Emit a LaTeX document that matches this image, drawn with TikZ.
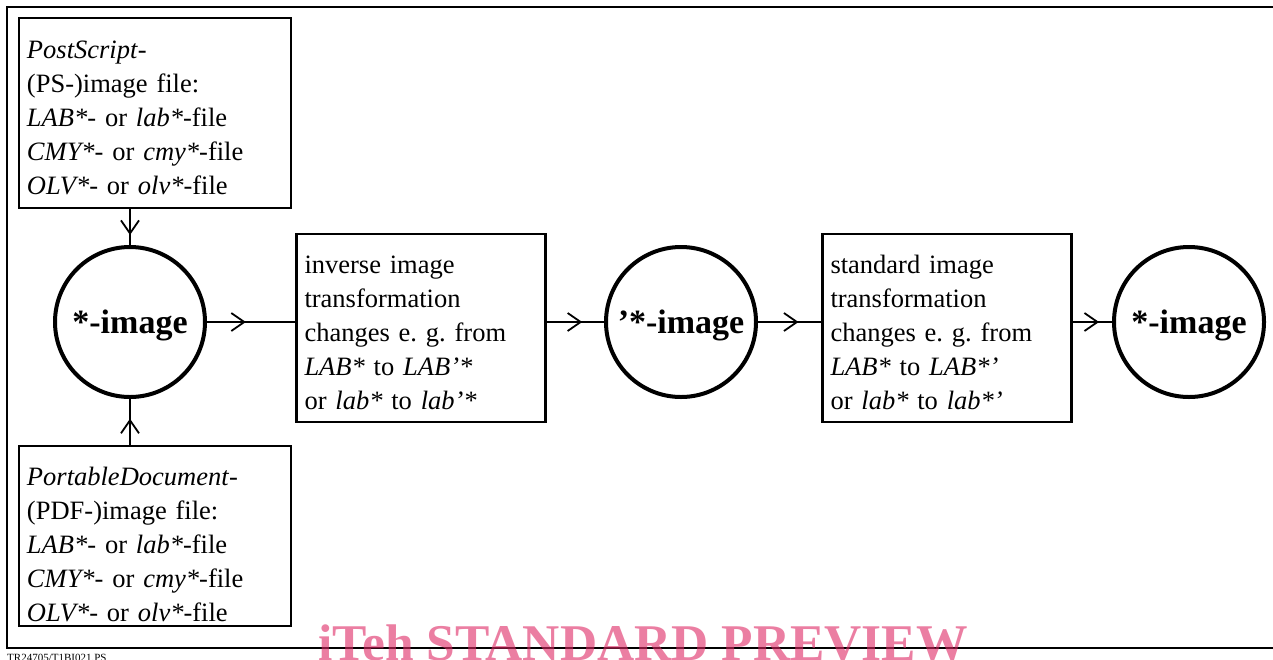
\documentclass[tikz,border=0pt]{standalone}
\usepackage{fontspec}
\setmainfont{Liberation Serif}
\usetikzlibrary{arrows.meta,decorations.markings}
\definecolor{wmark}{RGB}{222,40,100}
\newcommand\firstlinestrut[1]{\rule{0pt}{#1}}
\tikzset{
  txtbox/.style={draw, line width=2.4pt, inner xsep=8pt, inner ysep=0pt, align=left,
    font=\fontsize{26.5}{34}\selectfont\frenchspacing},
  imgcircle/.style={draw, circle, line width=4pt, minimum size=150pt, inner sep=0pt,
    text depth=1.5pt, font=\fontsize{34}{40}\selectfont\bfseries},
  flow/.style={line width=1.8pt, postaction=decorate,
    decoration={markings, mark=at position #1 with {\arrow[line width=1.8pt]{Straight Barb[length=13pt,width=18pt]}}}}
}
\begin{document}
\begin{tikzpicture}[x=1pt,y=-1pt]
\useasboundingbox (0,0) rectangle (1273,659);
\draw[line width=2.5pt] (7,7) rectangle (1290,648);

\node[txtbox, text width=256pt, minimum height=190pt] (ps) at (155,113) {\firstlinestrut{26.5pt}\textit{PostScript}-\\(PS-)image file:\\\textit{LAB*}- or \textit{lab*}-file\\\textit{CMY*}- or \textit{cmy*}-file\\\textit{OLV*}- or \textit{olv*}-file};
\node[txtbox, text width=256pt, minimum height=180pt] (pdf) at (155,536) {\firstlinestrut{34.5pt}\textit{PortableDocument}-\\(PDF-)image file:\\\textit{LAB*}- or \textit{lab*}-file\\\textit{CMY*}- or \textit{cmy*}-file\\\textit{OLV*}- or \textit{olv*}-file};
\node[imgcircle] (c1) at (130,322) {*-image};
\node[txtbox, text width=233pt, minimum height=188pt] (inv) at (421,328) {\firstlinestrut{26.5pt}inverse image\\transformation\\changes e. g. from\\\textit{LAB*} to \textit{LAB’*}\\or \textit{lab*} to \textit{lab’*}};
\node[imgcircle] (c2) at (681,322) {’*-image};
\node[txtbox, text width=233pt, minimum height=188pt] (std) at (947,328) {\firstlinestrut{26.5pt}standard image\\transformation\\changes e. g. from\\\textit{LAB*} to \textit{LAB*’}\\or \textit{lab*} to \textit{lab*’}};
\node[imgcircle] (c3) at (1189,322) {*-image};

\draw[flow=0.72] (ps.south -| c1) -- (c1.north);
\draw[flow=0.57] (pdf.north -| c1) -- (c1.south);
\draw[flow=0.44] (c1.east) -- (c1.east -| inv.west);
\draw[flow=0.62] (c2.west -| inv.east) -- (c2.west);
\draw[flow=0.64] (c2.east) -- (c2.east -| std.west);
\draw[flow=0.67] (c3.west -| std.east) -- (c3.west);

\node[anchor=base west, inner sep=0pt, font=\fontsize{11}{12}\selectfont] (foot) at (7,661) {TR24705/T1BI021.PS};
\node[anchor=base west, inner sep=0pt, text=wmark, text opacity=0.6, font=\fontsize{51.5}{56}\selectfont\bfseries] (wm) at (318,660) {iTeh STANDARD PREVIEW};
\end{tikzpicture}
\end{document}
